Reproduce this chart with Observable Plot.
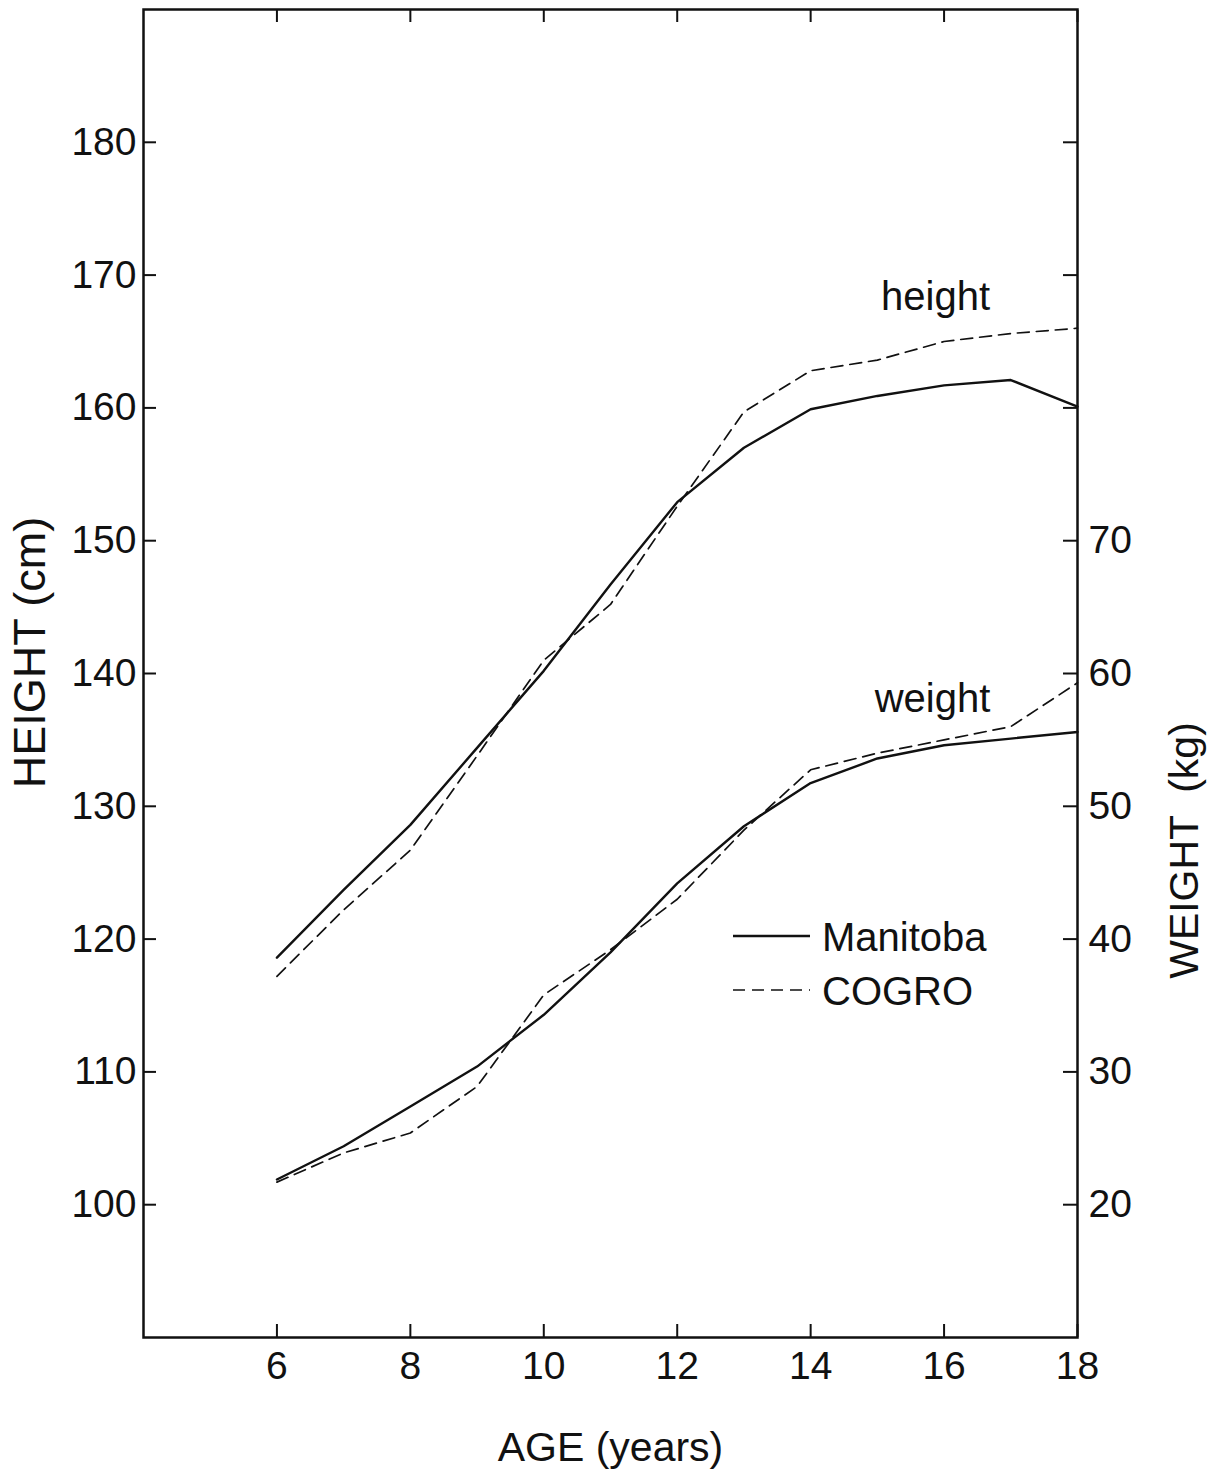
<!DOCTYPE html>
<html>
<head>
<meta charset="utf-8">
<script src="https://cdn.jsdelivr.net/npm/d3@7"></script>
<script src="https://cdn.jsdelivr.net/npm/@observablehq/plot@0.6"></script>
<style>
  html, body { margin: 0; padding: 0; background: #fff; }
  #chart { width: 1212px; height: 1472px; }
</style>
</head>
<body>
<div id="chart"></div>
<script>
// ---- data ----
const ages = [6, 7, 8, 9, 10, 11, 12, 13, 14, 15, 16, 17, 18];
const manitobaHeight = [118.6, 123.7, 128.6, 134.4, 140.2, 146.7, 152.9, 157.0, 159.9, 160.9, 161.7, 162.1, 160.1];
const cogroHeight    = [117.2, 122.2, 126.7, 133.8, 141.0, 145.2, 152.6, 159.7, 162.8, 163.6, 165.0, 165.6, 166.0];
const manitobaWeight = [21.9, 24.4, 27.4, 30.4, 34.3, 39.0, 44.2, 48.5, 51.75, 53.6, 54.6, 55.1, 55.6];
const cogroWeight    = [21.7, 23.9, 25.4, 28.9, 35.8, 39.2, 43.0, 48.2, 52.75, 54.0, 55.0, 56.0, 59.3];

const ageTicks = [6, 8, 10, 12, 14, 16, 18];
const heightTicks = [100, 110, 120, 130, 140, 150, 160, 170, 180];
const weightTicks = [20, 30, 40, 50, 60, 70, 80, 90, 100];
const weightLabelMax = 70;
const weightOffset = 80; // right axis: 70 kg sits at 150 cm

const seriesNames = ["Manitoba", "COGRO"];

// ---- table ----
const rows = [];
ages.forEach((a, i) => {
  rows.push({age: a, series: "Manitoba", measure: "height", cm: manitobaHeight[i]});
  rows.push({age: a, series: "COGRO", measure: "height", cm: cogroHeight[i]});
  rows.push({age: a, series: "Manitoba", measure: "weight", cm: manitobaWeight[i] + weightOffset});
  rows.push({age: a, series: "COGRO", measure: "weight", cm: cogroWeight[i] + weightOffset});
});

const FONT = "'Liberation Sans', Arial, Helvetica, sans-serif";
const INK = "#111";
const DASH = "12,7";

const chart = Plot.plot({
  width: 1212,
  height: 1472,
  marginLeft: 143,
  marginRight: 135,
  marginTop: 9,
  marginBottom: 135,
  style: {fontFamily: FONT, background: "#fff", color: INK, overflow: "visible"},
  x: {domain: [4, 18]},
  y: {domain: [90, 190]},
  marks: [
    Plot.frame({stroke: INK, strokeWidth: 2.5}),
    // bottom axis (inward ticks)
    Plot.axisX(ageTicks, {anchor: "bottom", tickSize: -13, tickPadding: 27, fontSize: 39, label: null, stroke: INK, strokeWidth: 2, fill: INK}),
    // top axis: inward ticks only
    Plot.axisX(ageTicks, {anchor: "top", tickSize: -12, tickFormat: () => "", label: null, stroke: INK, strokeWidth: 2}),
    // left axis (inward ticks)
    Plot.axisY(heightTicks, {anchor: "left", tickSize: -13, tickPadding: 20, fontSize: 39, label: null, stroke: INK, strokeWidth: 2, fill: INK}),
    // right axis (weight, kg), inward ticks
    Plot.axisY(weightTicks.map(w => w + weightOffset), {
      anchor: "right", tickSize: -15, tickPadding: 26, fontSize: 39, label: null,
      tickFormat: d => (d - weightOffset <= weightLabelMax ? String(d - weightOffset) : ""),
      stroke: INK, strokeWidth: 2, fill: INK
    }),
    // series
    Plot.line(rows.filter(d => d.series === "Manitoba"), {x: "age", y: "cm", z: "measure", stroke: INK, strokeWidth: 2.4, strokeLinejoin: "round"}),
    Plot.line(rows.filter(d => d.series === "COGRO"), {x: "age", y: "cm", z: "measure", stroke: INK, strokeWidth: 1.7, strokeDasharray: DASH}),
    // curve labels, anchored on the last COGRO point of each measure
    Plot.text(rows.filter(d => d.series === "COGRO" && d.measure === "height"), Plot.selectLast({
      x: "age", y: "cm", text: "measure", fontSize: 40, textAnchor: "middle", lineAnchor: "bottom", dx: -142, dy: -18, fill: INK
    })),
    Plot.text(rows.filter(d => d.series === "COGRO" && d.measure === "weight"), Plot.selectLast({
      x: "age", y: "cm", text: "measure", fontSize: 40, textAnchor: "middle", lineAnchor: "bottom", dx: -145, dy: 29, fill: INK
    })),
    // axis titles
    Plot.text(["HEIGHT (cm)"], {frameAnchor: "left", rotate: -90, dx: -113, dy: -21, fontSize: 45, textAnchor: "middle", lineAnchor: "middle", fill: INK}),
    Plot.text(["WEIGHT  (kg)"], {frameAnchor: "right", rotate: -90, dx: 107, dy: 177, fontSize: 41, textAnchor: "middle", lineAnchor: "middle", fill: INK}),
    Plot.text(["AGE (years)"], {frameAnchor: "bottom", dy: 123, fontSize: 41, textAnchor: "middle", lineAnchor: "bottom", fill: INK})
  ]
});

document.getElementById("chart").appendChild(chart);

// ---- in-plot legend ----
const svg = d3.select(chart);
const legend = svg.append("g")
  .attr("font-family", FONT).attr("font-size", 40).attr("fill", INK).attr("text-anchor", "start");
const legendItems = [
  {name: seriesNames[0], width: 2.4, dash: null},
  {name: seriesNames[1], width: 1.7, dash: DASH}
];
legendItems.forEach((it, i) => {
  const y = 936 + i * 54;
  legend.append("line")
    .attr("x1", 733).attr("x2", 810).attr("y1", y).attr("y2", y)
    .attr("stroke", INK).attr("stroke-width", it.width)
    .attr("stroke-dasharray", it.dash);
  legend.append("text").attr("x", 822).attr("y", y + 15).attr("text-anchor", "start").text(it.name);
});
</script>
</body>
</html>
